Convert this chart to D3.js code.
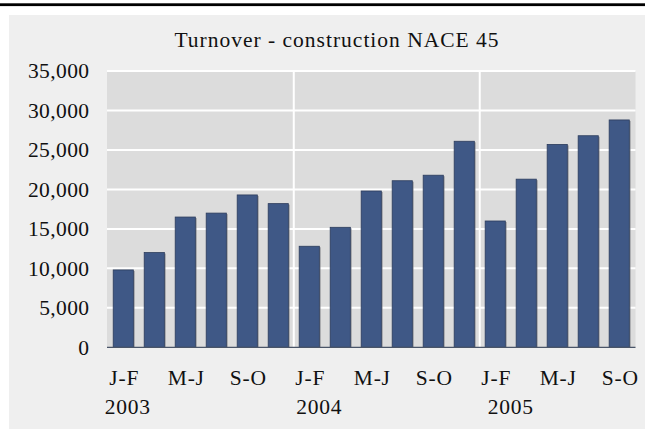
<!DOCTYPE html>
<html>
<head>
<meta charset="utf-8">
<script src="https://cdn.jsdelivr.net/npm/d3@7"></script>
<style>
	body { margin: 0; background: #fff; }
	text { font-family: "Liberation Serif", "Times New Roman", serif; fill: #111; }
</style>
</head>
<body>
<div id="chart-area"></div>
<script>
// DATA
var years = ["2003", "2004", "2005"];
var periods = ["J-F", "M-A", "M-J", "J-A", "S-O", "N-D"];
var labelled = ["J-F", "M-J", "S-O"];
var turnover2003 = [9800, 12000, 16500, 17000, 19300, 18200];
var turnover2004 = [12800, 15200, 19800, 21100, 21800, 26100];
var turnover2005 = [16000, 21300, 25700, 26800, 28800];
var yTicks = [0, 5000, 10000, 15000, 20000, 25000, 30000, 35000];

var W = 645, H = 430;
var plot = { left: 107, right: 635.5, top: 71, bottom: 347.3 };

var data = [];
[turnover2003, turnover2004, turnover2005].forEach(function (vals, yi) {
	vals.forEach(function (v, pi) {
		data.push({ year: years[yi], period: periods[pi], value: v, id: data.length });
	});
});

var svg = d3.select("#chart-area")
	.append("svg")
	.attr("width", W)
	.attr("height", H);

// frame
svg.append("rect")
	.attr("x", 0).attr("y", 3.3)
	.attr("width", W).attr("height", 2.8)
	.attr("fill", "#000");
svg.append("rect")
	.attr("x", 9).attr("y", 15)
	.attr("width", W - 9).attr("height", 414)
	.attr("fill", "#efefef");

svg.append("text")
	.attr("x", 337)
	.attr("y", 46.5)
	.attr("text-anchor", "middle")
	.attr("font-size", "21.5px")
	.attr("letter-spacing", "1px")
	.text("Turnover - construction NACE 45");

// SCALES
var x = d3.scaleBand()
	.domain(data.map(function (d) { return d.id; }))
	.range([plot.left, plot.right])
	.paddingInner(0.35)
	.paddingOuter(0.2);
var y = d3.scaleLinear()
	.domain([0, 35000])
	.range([plot.bottom, plot.top]);

svg.append("rect")
	.attr("x", plot.left).attr("y", plot.top)
	.attr("width", plot.right - plot.left)
	.attr("height", plot.bottom - plot.top)
	.attr("fill", "#dcdcdc");

// gridlines
svg.append("g")
	.selectAll("line")
	.data(yTicks.slice(1))
	.enter().append("line")
	.attr("x1", plot.left).attr("x2", plot.right)
	.attr("y1", function (d) { return y(d); })
	.attr("y2", function (d) { return y(d); })
	.attr("stroke", "#fff")
	.attr("stroke-width", 2);

// year separators
var step = x.step();
var starts = data.filter(function (d) { return d.period === "J-F" && d.year !== years[0]; });
svg.append("g")
	.selectAll("line")
	.data(starts)
	.enter().append("line")
	.attr("x1", function (d) { return x(d.id) - step * x.paddingInner() / 2; })
	.attr("x2", function (d) { return x(d.id) - step * x.paddingInner() / 2; })
	.attr("y1", plot.top).attr("y2", plot.bottom)
	.attr("stroke", "#fff")
	.attr("stroke-width", 2);

// bars (shadow then bar)
var bars = svg.append("g");
bars.selectAll("rect.shadow")
	.data(data)
	.enter().append("rect")
	.attr("class", "shadow")
	.attr("x", function (d) { return x(d.id) + 1.5; })
	.attr("y", function (d) { return y(d.value) + 1; })
	.attr("width", x.bandwidth())
	.attr("height", function (d) { return plot.bottom - y(d.value) - 1; })
	.attr("fill", "#7d7f86")
	.attr("opacity", 0.6);
bars.selectAll("rect.bar")
	.data(data)
	.enter().append("rect")
	.attr("class", "bar")
	.attr("x", function (d) { return x(d.id); })
	.attr("y", function (d) { return y(d.value); })
	.attr("width", x.bandwidth())
	.attr("height", function (d) { return plot.bottom - y(d.value); })
	.attr("fill", "#3f5886")
	.attr("stroke", "#2c3c5c")
	.attr("stroke-width", 0.8);

// zero axis line
svg.append("line")
	.attr("x1", plot.left).attr("x2", plot.right)
	.attr("y1", plot.bottom).attr("y2", plot.bottom)
	.attr("stroke", "#4a5568")
	.attr("stroke-width", 1.2);

// y labels
svg.append("g")
	.selectAll("text")
	.data(yTicks)
	.enter().append("text")
	.attr("x", 89.5)
	.attr("y", function (d) { return y(d); })
	.attr("dy", "0.34em")
	.attr("text-anchor", "end")
	.attr("font-size", "21.5px")
	.attr("letter-spacing", "0.4px")
	.text(d3.format(","));

// x labels
svg.append("g")
	.selectAll("text")
	.data(data.filter(function (d) { return labelled.indexOf(d.period) >= 0; }))
	.enter().append("text")
	.attr("x", function (d) { return x(d.id) + x.bandwidth() / 2 + 1; })
	.attr("y", 385)
	.attr("text-anchor", "middle")
	.attr("font-size", "21.5px")
	.attr("letter-spacing", "0.8px")
	.text(function (d) { return d.period; });

svg.append("g")
	.selectAll("text")
	.data(data.filter(function (d) { return d.period === "J-F"; }))
	.enter().append("text")
	.attr("x", function (d, i) { return x(d.id) + x.bandwidth() / 2 + 4.5 + i * 5.5; })
	.attr("y", 414)
	.attr("text-anchor", "middle")
	.attr("font-size", "21.5px")
	.attr("letter-spacing", "0.8px")
	.text(function (d) { return d.year; });
</script>
</body>
</html>
